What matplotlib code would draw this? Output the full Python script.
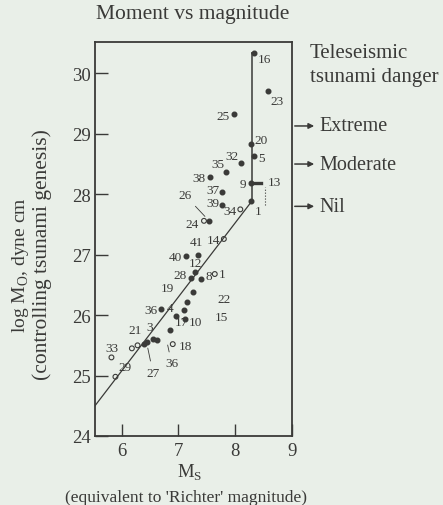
import matplotlib
matplotlib.use("Agg")
import matplotlib.pyplot as plt

plt.rcParams['font.family'] = ['Liberation Serif', 'DejaVu Serif']

# ---- data ----
filled_ms = [8.33, 8.57, 7.98, 8.27, 8.33, 8.10, 7.83, 7.55, 8.27, 8.27, 7.77, 7.77,
             7.53, 7.35, 7.14, 7.26, 6.70, 6.45, 6.55, 7.11, 6.96, 6.86, 7.40,
             7.30, 7.22, 7.15, 7.10, 6.40, 6.62]
filled_m0 = [30.33, 29.71, 29.32, 28.83, 28.64, 28.52, 28.36, 28.29, 28.19, 27.89, 28.04, 27.83,
             27.56, 27.00, 26.98, 26.38, 26.10, 25.55, 25.60, 25.93, 25.98, 25.75, 26.60,
             26.72, 26.62, 26.22, 26.08, 25.52, 25.58]
filled_lab = ['16', '23', '25', '20', '5', '32', '35', '38', '9', '1', '37', '39',
              '24', '41', '40', '19', '36', '21', '3', '10', '4', '17', '8',
              '12', '28', '22', '15', '', '']

open_ms = [8.09, 7.80, 7.64, 6.90, 5.89, 5.82, 6.18, 6.28, 7.45]
open_m0 = [27.75, 27.26, 26.68, 25.52, 24.98, 25.30, 25.45, 25.50, 27.56]
open_lab = ['34', '14', '1', '18', '29', '33', '', '', '']

line_ms = [5.53, 8.28]
line_m0 = [24.50, 27.87]
vert_ms = 8.30
vert_m0 = [27.87, 30.33]

danger_levels = [29.13, 28.50, 27.80]
danger_labels = ['Extreme', 'Moderate', 'Nil']

xticks = [6, 7, 8, 9]
yticks = [24, 25, 26, 27, 28, 29, 30]

# label offsets (points) and alignments
filled_off = [(3, -4, 'left'), (2, -7, 'left'), (-3, -1, 'right'), (3, 3, 'left'), (3, -2, 'left'),
              (-2, 5, 'right'), (-1, 6, 'right'), (-3, -1, 'right'), (-3, -1, 'right'), (3, -7, 'left'),
              (-2, 1, 'right'), (-2, 1, 'right'), (-7, -2, 'right'), (-1, 9, 'center'), (-3, -1, 'right'),
              (-14, 3, 'right'), (-3, -1, 'right'), (-4, 9, 'right'), (-2, 9, 'center'), (3, -2, 'left'),
              (-2, 6, 'right'), (3, 6, 'left'), (3, 2, 'left'), (0, 6, 'center'), (-3, 2, 'right'),
              (22, 2, 'left'), (22, -5, 'left'), (0, 0, 'left'), (0, 0, 'left')]
open_off = [(-3, -1, 'right'), (-3, -1, 'right'), (3, 0, 'left'), (4, -1, 'left'), (2, 7, 'left'),
            (0, 7, 'center'), (0, 0, 'left'), (0, 0, 'left'), (0, 0, 'left')]

ink = '#3a3a38'
bg = '#e9efe8'
lab_fs = 9.5

fig = plt.figure(figsize=(4.43, 5.06), dpi=100, facecolor=bg)
ax = fig.add_axes([0.2144, 0.1364, 0.4447, 0.7787], facecolor=bg)
ax.set_xlim(5.53, 9.0)
ax.set_ylim(24.0, 30.52)

ax.plot(line_ms, line_m0, color=ink, lw=0.9)
ax.plot([vert_ms, vert_ms], vert_m0, color=ink, lw=1.1)
ax.plot([vert_ms, filled_ms[0]], [vert_m0[1], vert_m0[1]], color=ink, lw=1.1)
ax.plot([8.52, 8.52], [27.83, 28.12], color=ink, lw=0.8, ls=':')
ax.annotate('13', (8.52, 28.2), xytext=(2, 0), textcoords='offset points',
            fontsize=lab_fs, color=ink, ha='left', va='center')
ax.plot([8.27, 8.45], [28.19, 28.19], color=ink, lw=2.4)

ax.scatter(filled_ms, filled_m0, s=11, color=ink, zorder=3)
ax.scatter(open_ms, open_m0, s=12, facecolor='none', edgecolor=ink, lw=0.8, zorder=3)

for x, y, t, (dx, dy, ha) in zip(filled_ms, filled_m0, filled_lab, filled_off):
    if t:
        ax.annotate(t, (x, y), xytext=(dx, dy), textcoords='offset points',
                    fontsize=lab_fs, color=ink, ha=ha, va='center')
for x, y, t, (dx, dy, ha) in zip(open_ms, open_m0, open_lab, open_off):
    if t:
        ax.annotate(t, (x, y), xytext=(dx, dy), textcoords='offset points',
                    fontsize=lab_fs, color=ink, ha=ha, va='center')

# leader lines
ax.annotate('26', (7.50, 27.60), xytext=(7.12, 27.98), fontsize=lab_fs, color=ink,
            ha='center', va='center', arrowprops=dict(arrowstyle='-', color=ink, lw=0.6))
ax.annotate('27', (6.45, 25.50), xytext=(6.55, 25.05), fontsize=lab_fs, color=ink,
            ha='center', va='center', arrowprops=dict(arrowstyle='-', color=ink, lw=0.6))
ax.annotate('36', (6.80, 25.55), xytext=(6.88, 25.20), fontsize=lab_fs, color=ink,
            ha='center', va='center', arrowprops=dict(arrowstyle='-', color=ink, lw=0.6))

for s in ax.spines.values():
    s.set_color(ink)
    s.set_linewidth(1.3)
ax.set_xticks(xticks)
ax.set_yticks(yticks)
ax.tick_params(direction='in', length=9, width=1.0, colors=ink, labelsize=13.5, pad=4)
ax.tick_params(axis='y', pad=3)

fig.text(0.435, 0.972, 'Moment vs magnitude', fontsize=15.5, color=ink, ha='center', va='center')
fig.text(0.047, 0.476, 'log M$_\\mathregular{O}$, dyne cm', rotation=90, fontsize=14,
         color=ink, ha='center', va='center')
fig.text(0.095, 0.496, '(controlling tsunami genesis)', rotation=90, fontsize=15.5,
         color=ink, ha='center', va='center')
fig.text(0.429, 0.066, 'M$_\\mathregular{S}$', fontsize=13.5, color=ink, ha='center', va='center')
fig.text(0.42, 0.016, "(equivalent to 'Richter' magnitude)", fontsize=12.5, color=ink,
         ha='center', va='center')

fig.text(0.70, 0.895, 'Teleseismic', fontsize=15, color=ink, ha='left', va='center')
fig.text(0.70, 0.846, 'tsunami danger', fontsize=15, color=ink, ha='left', va='center')
for lvl, lab in zip(danger_levels, danger_labels):
    ax.annotate('', xy=(9.44, lvl), xytext=(9.0, lvl), xycoords='data',
                arrowprops=dict(arrowstyle='-|>', color=ink, lw=1.1, mutation_scale=8),
                annotation_clip=False)
    ax.text(9.49, lvl, lab, fontsize=14.5, color=ink, ha='left', va='center', clip_on=False)

fig.savefig('out.png', dpi=100, facecolor=bg)
